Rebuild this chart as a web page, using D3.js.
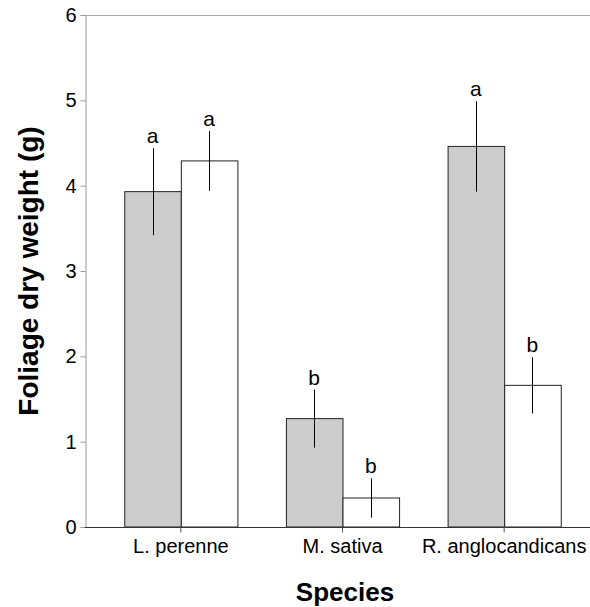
<!DOCTYPE html>
<html>
<head>
<meta charset="utf-8" />
<title>Foliage dry weight</title>
<script src="https://cdn.jsdelivr.net/npm/d3@7"></script>
<style>
  body { margin: 0; background: #fff; }
  text { font-family: "Liberation Sans", Arial, sans-serif; fill: #000; }
</style>
</head>
<body>
<svg id="chart"></svg>
<script>
  // data
  var species = ["L. perenne", "M. sativa", "R. anglocandicans"];
  var greyMeans = [3.93, 1.27, 4.46];
  var greyErr = [0.51, 0.34, 0.53];
  var greyLetters = ["a", "b", "a"];
  var whiteMeans = [4.29, 0.34, 1.66];
  var whiteErr = [0.35, 0.23, 0.33];
  var whiteLetters = ["a", "b", "b"];
  var yTicks = [0, 1, 2, 3, 4, 5, 6];

  var width = 590, height = 607;
  // (window.top is taken, so plot edges get their own names)
  var plotLeft = 85, plotTop = 15, plotBottom = 527, plotRight = 590;

  var svg = d3.select("#chart")
              .attr("width", width)
              .attr("height", height);

  var x = d3.scaleBand()
            .domain(species)
            .range([100, 585])
            .paddingInner(0)
            .paddingOuter(0);

  var y = d3.scaleLinear()
            .domain([0, 6])
            .range([plotBottom, plotTop]);

  var barW = x.bandwidth() * 0.35;

  var rows = [];
  species.forEach(function(s, i){
    rows.push({sp: s, side: 0, v: greyMeans[i], e: greyErr[i], l: greyLetters[i]});
    rows.push({sp: s, side: 1, v: whiteMeans[i], e: whiteErr[i], l: whiteLetters[i]});
  });

  function cx(d){ return x(d.sp) + x.bandwidth()/2; }
  function barMid(d){ return d.side == 0 ? cx(d) - barW/2 : cx(d) + barW/2; }

  // top frame line
  svg.append("line")
     .attr("x1", plotLeft).attr("x2", plotRight)
     .attr("y1", plotTop + 0.5).attr("y2", plotTop + 0.5)
     .attr("stroke", "#aaa");

  // y axis
  var yAxis = svg.append("g")
                 .attr("transform", "translate(" + (plotLeft + 0.5) + ",0)")
                 .call(d3.axisLeft(y).tickValues(yTicks).tickFormat(d3.format("d"))
                         .tickSize(5).tickPadding(4));
  yAxis.select(".domain").attr("stroke", "#999");
  yAxis.selectAll(".tick line").attr("stroke", "#999");
  yAxis.selectAll("text")
       .attr("font-size", "20px")
       .attr("font-family", "Liberation Sans, Arial, sans-serif")
       .attr("fill", "#000");

  // bars
  svg.append("g")
     .selectAll("rect")
     .data(rows)
     .enter().append("rect")
     .attr("x", function(d){ return (d.side == 0 ? cx(d) - barW : cx(d)) + 0.5; })
     .attr("y", function(d){ return y(d.v); })
     .attr("width", barW)
     .attr("height", function(d){ return y(0) - y(d.v); })
     .attr("fill", function(d){ return d.side == 0 ? "#cccccc" : "#ffffff"; })
     .attr("stroke", "#222")
     .attr("stroke-width", 1);

  // error bars
  svg.append("g")
     .selectAll("line")
     .data(rows)
     .enter().append("line")
     .attr("x1", function(d){ return Math.round(barMid(d)) + 0.5; })
     .attr("x2", function(d){ return Math.round(barMid(d)) + 0.5; })
     .attr("y1", function(d){ return y(d.v + d.e); })
     .attr("y2", function(d){ return y(d.v - d.e); })
     .attr("stroke", "#000")
     .attr("stroke-width", 1);

  // significance letters
  svg.append("g")
     .selectAll("text")
     .data(rows)
     .enter().append("text")
     .attr("x", barMid)
     .attr("y", function(d){ return y(d.v + d.e) - 5; })
     .attr("text-anchor", "middle")
     .attr("font-size", "21px")
     .text(function(d){ return d.l; });

  // x axis
  var xAxis = svg.append("g")
                 .attr("transform", "translate(0," + (plotBottom + 0.5) + ")")
                 .call(d3.axisBottom(x).tickSize(5).tickPadding(6).tickSizeOuter(0));
  xAxis.select(".domain").attr("d", "M" + plotLeft + ",0H" + plotRight).attr("stroke", "#333");
  xAxis.selectAll(".tick line").attr("stroke", "#555");
  xAxis.selectAll("text")
       .attr("font-size", "20px")
       .attr("font-family", "Liberation Sans, Arial, sans-serif")
       .attr("fill", "#000");

  // axis titles
  svg.append("text")
     .attr("x", 345)
     .attr("y", 601)
     .attr("text-anchor", "middle")
     .attr("font-size", "26px")
     .attr("font-weight", "bold")
     .text("Species");

  svg.append("text")
     .attr("transform", "translate(38," + ((plotTop + plotBottom) / 2) + ")rotate(-90)")
     .attr("text-anchor", "middle")
     .attr("font-size", "28px")
     .attr("font-weight", "bold")
     .text("Foliage dry weight (g)");
</script>
</body>
</html>
